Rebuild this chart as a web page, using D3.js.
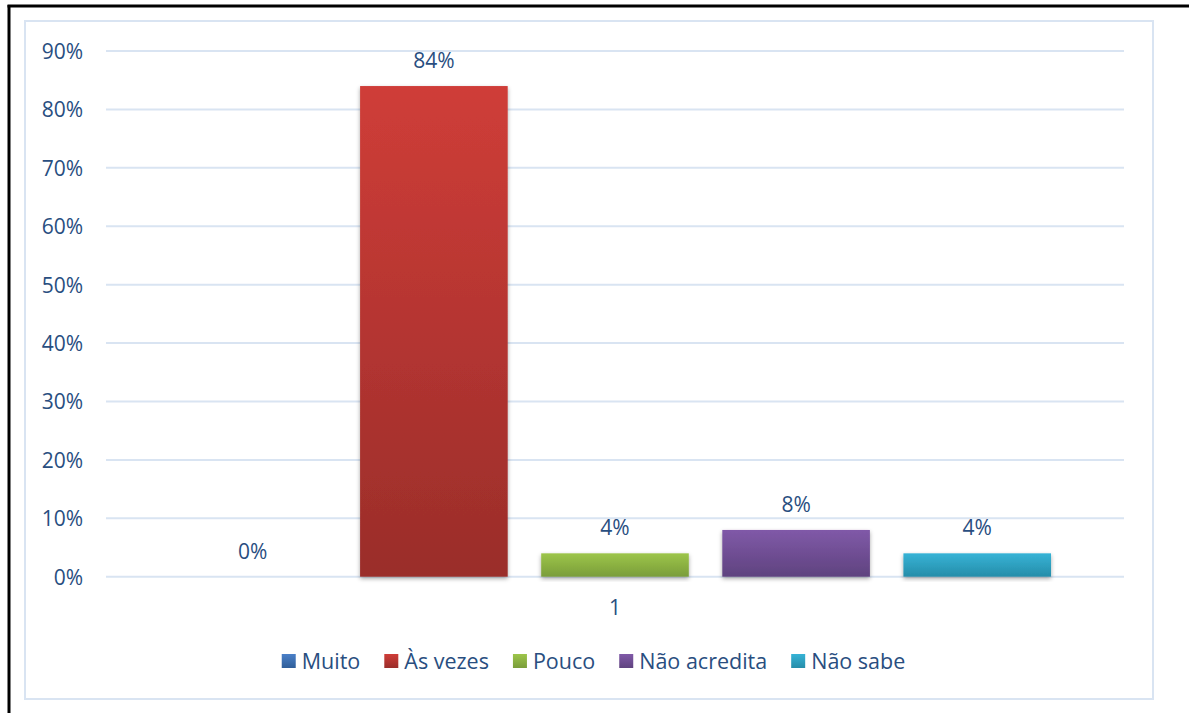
<!DOCTYPE html>
<html>
<head>
<meta charset="utf-8">
<script src="https://cdn.jsdelivr.net/npm/d3@7/dist/d3.min.js"></script>
<style>
  html, body { margin: 0; padding: 0; background: #fff; }
  svg { display: block; font-family: "Open Sans", "Noto Sans", sans-serif; }
</style>
</head>
<body>
<svg id="chart" width="1189" height="713"></svg>
<script>
// Data
const categories = ["1"];
const seriesNames = ["Muito", "Às vezes", "Pouco", "Não acredita", "Não sabe"];
const seriesValues = [0, 84, 4, 8, 4];
const yTicks = [0, 10, 20, 30, 40, 50, 60, 70, 80, 90];
// Gradient stops per series (top, bottom)
const seriesColors = [
  ["#4a80c8", "#2f5e99"],
  ["#cf3d38", "#9a2d2a"],
  ["#9dc54a", "#7a9d3a"],
  ["#8059a8", "#5f437f"],
  ["#36b3d6", "#268da9"]
];

(function () {
const svg = d3.select("#chart");
const textColor = "#294e7f";
const fontSize = 21;

// Outer page frame (black) and chart area border
svg.append("line").attr("x1", 9).attr("y1", 5).attr("x2", 9).attr("y2", 713)
  .attr("stroke", "#000").attr("stroke-width", 3);
svg.append("line").attr("x1", 7.5).attr("y1", 6).attr("x2", 1189).attr("y2", 6)
  .attr("stroke", "#000").attr("stroke-width", 3);
svg.append("rect").attr("x", 25).attr("y", 21).attr("width", 1128).attr("height", 678)
  .attr("fill", "#fff").attr("stroke", "#d9e4f2").attr("stroke-width", 2);

const defs = svg.append("defs");
seriesColors.forEach((c, i) => {
  const g = defs.append("linearGradient").attr("id", "grad" + i)
    .attr("x1", 0).attr("y1", 0).attr("x2", 0).attr("y2", 1);
  g.append("stop").attr("offset", "0%").attr("stop-color", c[0]);
  g.append("stop").attr("offset", "100%").attr("stop-color", c[1]);
});
const shadow = defs.append("filter").attr("id", "shadow")
  .attr("x", "-10%").attr("y", "-10%").attr("width", "120%").attr("height", "130%");
shadow.append("feDropShadow").attr("dx", 0).attr("dy", 2).attr("stdDeviation", 2)
  .attr("flood-color", "#000").attr("flood-opacity", 0.35);

// Plot area
const plotLeft = 106, plotRight = 1124, plotTop = 51, plotBottom = 576.7;

const y = d3.scaleLinear().domain([0, 90]).range([plotBottom, plotTop]);
const x0 = d3.scaleBand().domain(categories).range([plotLeft, plotRight])
  .paddingInner(0).paddingOuter(0.0837);
const x1 = d3.scaleBand().domain(seriesNames).range([0, x0.bandwidth()])
  .paddingInner(0.185).paddingOuter(0);

// Gridlines
svg.append("g").selectAll("line").data(yTicks).join("line")
  .attr("x1", plotLeft).attr("x2", plotRight)
  .attr("y1", d => y(d)).attr("y2", d => y(d))
  .attr("stroke", "#d9e4f2").attr("stroke-width", 2);

// Y axis labels
const yAxis = d3.axisLeft(y).tickValues(yTicks).tickFormat(d => d + "%").tickSize(0).tickPadding(0);
const yg = svg.append("g").attr("transform", `translate(83,0)`).call(yAxis);
yg.select(".domain").remove();
yg.selectAll("text").attr("fill", textColor).style("font-size", fontSize + "px")
  .style("font-family", "'Open Sans', sans-serif").attr("dy", "0.35em");

// Bars
const groups = svg.append("g").selectAll("g").data(categories).join("g")
  .attr("transform", d => `translate(${x0(d)},0)`);

const barData = seriesNames.map((n, i) => ({ name: n, value: seriesValues[i], i }));
groups.selectAll("rect").data(barData).join("rect")
  .attr("x", d => x1(d.name))
  .attr("y", d => y(d.value))
  .attr("width", x1.bandwidth())
  .attr("height", d => plotBottom - y(d.value))
  .attr("fill", d => `url(#grad${d.i})`)
  .attr("filter", d => d.value > 0 ? "url(#shadow)" : null);

// Data labels
groups.selectAll("text.lbl").data(barData).join("text")
  .attr("class", "lbl")
  .attr("x", d => x1(d.name) + x1.bandwidth() / 2)
  .attr("y", d => y(d.value) - 18)
  .attr("text-anchor", "middle")
  .attr("fill", textColor)
  .style("font-size", fontSize + "px")
  .text(d => d.value + "%");

// Category axis label
const xAxis = d3.axisBottom(x0).tickSize(0).tickPadding(0);
const xg = svg.append("g").attr("transform", `translate(0,${plotBottom + 23})`).call(xAxis);
xg.select(".domain").remove();
xg.selectAll("text").attr("fill", textColor).style("font-size", fontSize + "px")
  .style("font-family", "'Open Sans', sans-serif").attr("dy", "0.71em");

// Legend
const legend = svg.append("g");
const sw = 14, gapText = 6, gapItem = 24;
let cx = 0;
seriesNames.forEach((n, i) => {
  const g = legend.append("g");
  g.append("rect").attr("x", 0).attr("y", -7).attr("width", sw).attr("height", sw)
    .attr("fill", `url(#grad${i})`);
  const t = g.append("text").attr("x", sw + gapText).attr("y", 0).attr("dy", "0.35em")
    .attr("fill", textColor).style("font-size", "21.5px").text(n);
  const w = sw + gapText + t.node().getComputedTextLength();
  g.attr("transform", `translate(${cx},0)`);
  cx += w + gapItem;
});
const totalW = cx - gapItem;
legend.attr("transform", `translate(${593.5 - totalW / 2},661)`);
})();
</script>
</body>
</html>
